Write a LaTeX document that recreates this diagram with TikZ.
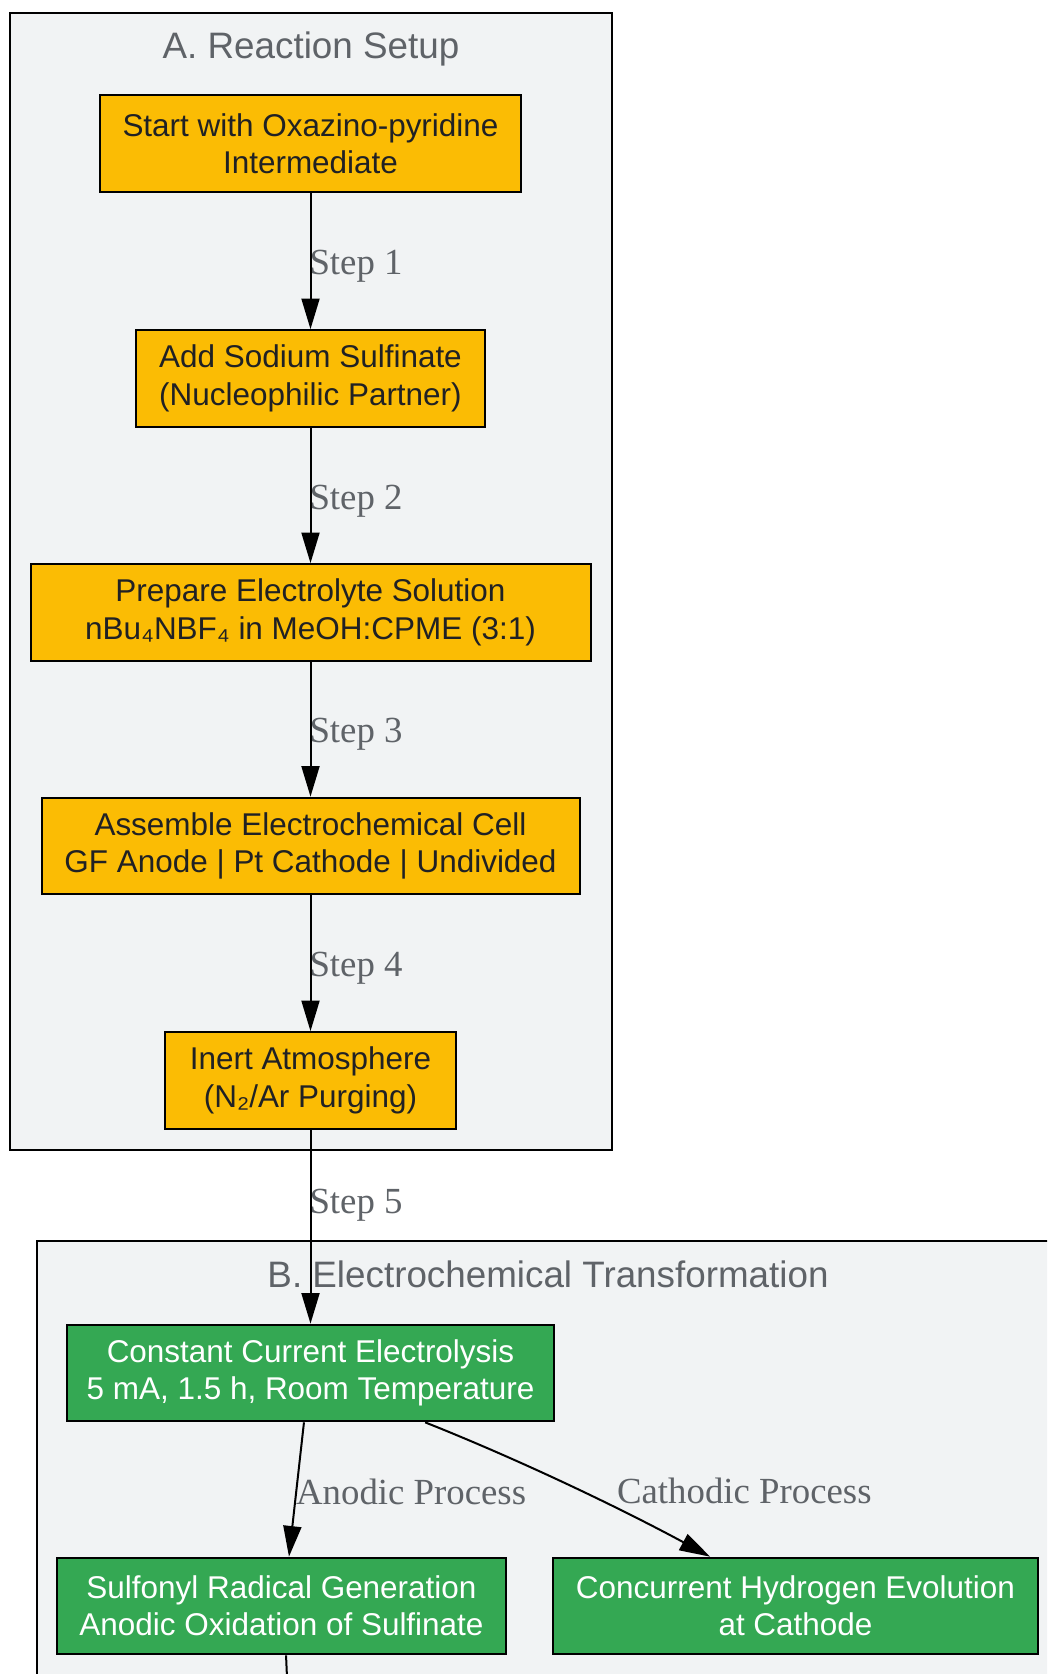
\documentclass[tikz,border=0pt]{standalone}
\usepackage{fontspec}
\setmainfont{Liberation Serif}
\setsansfont{Liberation Sans}
\usepackage{tikz}
\usetikzlibrary{
    positioning,
    arrows.meta
}
\definecolor{setupAmber}{HTML}{FBBC04}
\definecolor{cellGreen}{HTML}{34A853}
\definecolor{panelGray}{HTML}{F1F3F4}
\definecolor{labelGray}{HTML}{5F6368}
\definecolor{inkDark}{HTML}{202124}

\begin{document}
\begin{tikzpicture}[x=0.75pt, y=-0.75pt, >={Triangle[length=23pt, width=13.5pt]},
        stepbox/.style={draw=black, line width=1.5pt, align=center, inner sep=0pt,
            minimum height=72.5pt, font=\sffamily\fontsize{23.6}{28}\selectfont},
        setup/.style={stepbox, fill=setupAmber, text=inkDark},
        cell/.style={stepbox, fill=cellGreen, text=white},
        panel/.style={draw=black, line width=1.5pt, fill=panelGray},
        paneltitle/.style={text=labelGray, inner sep=0pt, font=\sffamily\fontsize{27.6}{33}\selectfont},
        flow/.style={->, line width=1.5pt},
        steplbl/.style={anchor=west, inner sep=0pt, text=labelGray, font=\fontsize{27.6}{33}\selectfont}]
        \useasboundingbox (0,0) rectangle (1047,1674);
        \clip (0,0) rectangle (1047,1674);

        % A. Reaction Setup
        \draw[panel] (10,13) rectangle (612,1150);
        \node[paneltitle] (titleA) at (311,49) {A. Reaction Setup};
        \node[setup, minimum width=315.75pt] (start) at (310.5,143.5) {Start with Oxazino-pyridine\\Intermediate};
        \node[setup, minimum width=261.75pt] (sulfinate) at (310.5,378.5) {Add Sodium Sulfinate\\(Nucleophilic Partner)};
        \node[setup, minimum width=420pt] (electrolyte) at (310.5,612.5) {Prepare Electrolyte Solution\\nBu₄NBF₄ in MeOH:CPME (3:1)};
        \node[setup, minimum width=403.5pt] (cell) at (310.5,846) {Assemble Electrochemical Cell\\GF Anode | Pt Cathode | Undivided};
        \node[setup, minimum width=218.25pt] (inert) at (310.5,1080.5) {Inert Atmosphere\\(N₂/Ar Purging)};

        % B. Electrochemical Transformation
        \draw[panel] (37,1241) rectangle (1070,1700);
        \node[paneltitle] (titleB) at (548,1274) {B. Electrochemical Transformation};
        \node[cell, minimum width=365.25pt] (electrolysis) at (310.5,1373) {Constant Current Electrolysis\\5 mA, 1.5 h, Room Temperature};
        \node[cell, minimum width=336.75pt] (radical) at (281.5,1606) {Sulfonyl Radical Generation\\Anodic Oxidation of Sulfinate};
        \node[cell, minimum width=363.75pt] (hydrogen) at (795.5,1606) {Concurrent Hydrogen Evolution\\at Cathode};
        \coordinate (below) at (288,1700);

        \draw[flow] (start) -- (sulfinate) node[steplbl, midway, xshift=-1.5pt, yshift=-4pt] {Step 1};
        \draw[flow] (sulfinate) -- (electrolyte) node[steplbl, midway, xshift=-1.5pt, yshift=-4pt] {Step 2};
        \draw[flow] (electrolyte) -- (cell) node[steplbl, midway, xshift=-1.5pt, yshift=-4pt] {Step 3};
        \draw[flow] (cell) -- (inert) node[steplbl, midway, xshift=-1.5pt, yshift=-4pt] {Step 4};
        \draw[flow] (inert) -- (electrolysis) node[steplbl, pos=0.36, xshift=-1.5pt, yshift=-4pt] {Step 5};
        \draw[flow] ([xshift=-4.9pt]electrolysis.south) -- ([xshift=5.6pt]radical.north)
            node[steplbl, midway, xshift=-1pt, yshift=-1.5pt] {Anodic Process};
        \draw[flow] ([xshift=86pt]electrolysis.south) .. controls (520,1460) and (620,1508) .. ([xshift=-64pt]hydrogen.north)
            node[steplbl, pos=0.5, xshift=35pt, yshift=-4.5pt] {Cathodic Process};
        \draw[line width=1.5pt] ([xshift=3.4pt]radical.south) -- (below);
    \end{tikzpicture}
\end{document}
